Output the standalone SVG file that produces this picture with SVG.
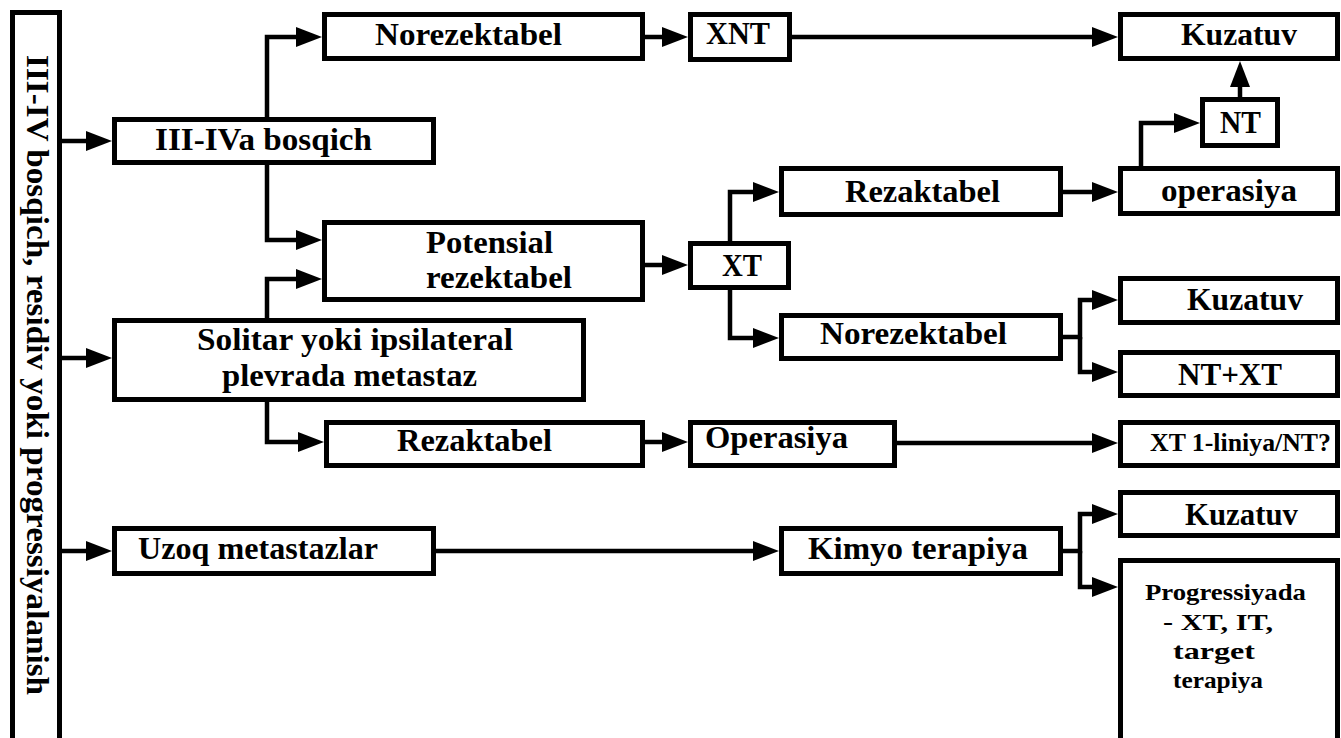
<svg xmlns="http://www.w3.org/2000/svg" width="1341" height="738" viewBox="0 0 1341 738">
<style>
.box{fill:#fff;stroke:#000;stroke-width:5}
.t{font-family:"Liberation Serif","Times New Roman",serif;font-weight:bold;font-size:32px;fill:#000}
.s{font-size:25px}
.p{font-size:23px}
.c{fill:none;stroke:#000;stroke-width:4.5}
</style>
<defs>
<marker id="ah" markerUnits="userSpaceOnUse" markerWidth="26" markerHeight="20" viewBox="0 0 26 20" refX="18" refY="10" orient="auto">
<path d="M0,0 L26,10 L0,20 z" fill="#000"/>
</marker>
</defs>
<rect width="1341" height="738" fill="#fff"/>
<g id="connectors">
<path class="c" marker-end="url(#ah)" d="M62,141 H104"/>
<path class="c" marker-end="url(#ah)" d="M62,358 H104"/>
<path class="c" marker-end="url(#ah)" d="M62,551 H104"/>
<path class="c" marker-end="url(#ah)" d="M267,117 V37 H314"/>
<path class="c" marker-end="url(#ah)" d="M267,165 V240 H314"/>
<path class="c" marker-end="url(#ah)" d="M267,318 V279 H314"/>
<path class="c" marker-end="url(#ah)" d="M267,402 V442 H316"/>
<path class="c" marker-end="url(#ah)" d="M645,37 H680"/>
<path class="c" marker-end="url(#ah)" d="M792,37 H1110"/>
<path class="c" marker-end="url(#ah)" d="M645,265 H680"/>
<path class="c" marker-end="url(#ah)" d="M730,241 V192 H771"/>
<path class="c" marker-end="url(#ah)" d="M730,290 V338 H771"/>
<path class="c" marker-end="url(#ah)" d="M1063,192 H1110"/>
<path class="c" marker-end="url(#ah)" d="M1141,166 V123 H1192"/>
<path class="c" marker-end="url(#ah)" d="M1240,97 V69"/>
<path class="c" marker-end="url(#ah)" d="M1063,337 H1080 V300 H1110"/>
<path class="c" marker-end="url(#ah)" d="M1080,337 V372 H1110"/>
<path class="c" marker-end="url(#ah)" d="M645,442 H680"/>
<path class="c" marker-end="url(#ah)" d="M897,443 H1110"/>
<path class="c" marker-end="url(#ah)" d="M436,551 H771"/>
<path class="c" marker-end="url(#ah)" d="M1063,551 H1080 V514 H1110"/>
<path class="c" marker-end="url(#ah)" d="M1080,551 V587 H1110"/>
</g>
<g id="n_main"><rect class="box" x="12.5" y="12.5" width="47" height="740"/>
<text class="t" transform="translate(27,55) rotate(90)" x="0" y="0" textLength="640" lengthAdjust="spacingAndGlyphs">III-IV bosqich, residiv yoki progressiyalanish</text></g>
<g id="n_stage"><rect class="box" x="114.5" y="119.5" width="319" height="43"/>
<text class="t" x="155" y="150" textLength="217" lengthAdjust="spacingAndGlyphs">III-IVa bosqich</text></g>
<g id="n_norez1"><rect class="box" x="324.5" y="14.5" width="318" height="44"/>
<text class="t" x="375" y="45" textLength="187" lengthAdjust="spacingAndGlyphs">Norezektabel</text></g>
<g id="n_xnt"><rect class="box" x="690.5" y="14.5" width="99" height="45"/>
<text class="t" x="706" y="44" textLength="64" lengthAdjust="spacingAndGlyphs">XNT</text></g>
<g id="n_kuz1"><rect class="box" x="1120.5" y="14.5" width="217" height="44"/>
<text class="t" x="1181" y="45" textLength="116" lengthAdjust="spacingAndGlyphs">Kuzatuv</text></g>
<g id="n_nt"><rect class="box" x="1202.5" y="99.5" width="75" height="46"/>
<text class="t" x="1220" y="133" textLength="41" lengthAdjust="spacingAndGlyphs">NT</text></g>
<g id="n_oper1"><rect class="box" x="1120.5" y="168.5" width="217" height="45"/>
<text class="t" x="1161" y="201" textLength="136" lengthAdjust="spacingAndGlyphs">operasiya</text></g>
<g id="n_rez1"><rect class="box" x="781.5" y="168.5" width="279" height="46"/>
<text class="t" x="845" y="202" textLength="155" lengthAdjust="spacingAndGlyphs">Rezaktabel</text></g>
<g id="n_pot"><rect class="box" x="324.5" y="222.5" width="318" height="77"/>
<text class="t" x="426" y="253" textLength="127" lengthAdjust="spacingAndGlyphs">Potensial</text>
<text class="t" x="426" y="288" textLength="146" lengthAdjust="spacingAndGlyphs">rezektabel</text></g>
<g id="n_xt"><rect class="box" x="690.5" y="243.5" width="98" height="44"/>
<text class="t" x="722" y="276" textLength="40" lengthAdjust="spacingAndGlyphs">XT</text></g>
<g id="n_norez2"><rect class="box" x="781.5" y="315.5" width="279" height="43"/>
<text class="t" x="820" y="344" textLength="187" lengthAdjust="spacingAndGlyphs">Norezektabel</text></g>
<g id="n_kuz2"><rect class="box" x="1120.5" y="278.5" width="217" height="44"/>
<text class="t" x="1187" y="310" textLength="116" lengthAdjust="spacingAndGlyphs">Kuzatuv</text></g>
<g id="n_ntxt"><rect class="box" x="1120.5" y="352.5" width="217" height="43"/>
<text class="t" x="1178" y="385" textLength="104" lengthAdjust="spacingAndGlyphs">NT+XT</text></g>
<g id="n_sol"><rect class="box" x="114.5" y="320.5" width="469" height="79"/>
<text class="t" x="197" y="350" textLength="316" lengthAdjust="spacingAndGlyphs">Solitar yoki ipsilateral</text>
<text class="t" x="222" y="386" textLength="255" lengthAdjust="spacingAndGlyphs">plevrada metastaz</text></g>
<g id="n_rez2"><rect class="box" x="326.5" y="422.5" width="316" height="43"/>
<text class="t" x="397" y="451" textLength="155" lengthAdjust="spacingAndGlyphs">Rezaktabel</text></g>
<g id="n_oper2"><rect class="box" x="690.5" y="422.5" width="204" height="43"/>
<text class="t" x="705" y="448" textLength="143" lengthAdjust="spacingAndGlyphs">Operasiya</text></g>
<g id="n_xt1"><rect class="box" x="1120.5" y="422.5" width="217" height="43"/>
<text class="t s" x="1150" y="451" textLength="181" lengthAdjust="spacingAndGlyphs">XT 1-liniya/NT?</text></g>
<g id="n_uzoq"><rect class="box" x="114.5" y="528.5" width="319" height="45"/>
<text class="t" x="138" y="559" textLength="240" lengthAdjust="spacingAndGlyphs">Uzoq metastazlar</text></g>
<g id="n_kimyo"><rect class="box" x="781.5" y="528.5" width="279" height="45"/>
<text class="t" x="808" y="559" textLength="220" lengthAdjust="spacingAndGlyphs">Kimyo terapiya</text></g>
<g id="n_kuz3"><rect class="box" x="1120.5" y="492.5" width="217" height="43"/>
<text class="t" x="1185" y="525" textLength="113" lengthAdjust="spacingAndGlyphs">Kuzatuv</text></g>
<g id="n_prog"><rect class="box" x="1120.5" y="560.5" width="217" height="190"/>
<text class="t p" x="1145" y="600" textLength="161" lengthAdjust="spacingAndGlyphs">Progressiyada</text>
<text class="t p" x="1163" y="630" textLength="110" lengthAdjust="spacingAndGlyphs">- XT, IT,</text>
<text class="t p" x="1173" y="659" textLength="82" lengthAdjust="spacingAndGlyphs">target</text>
<text class="t p" x="1173" y="688" textLength="90" lengthAdjust="spacingAndGlyphs">terapiya</text></g>
</svg>
